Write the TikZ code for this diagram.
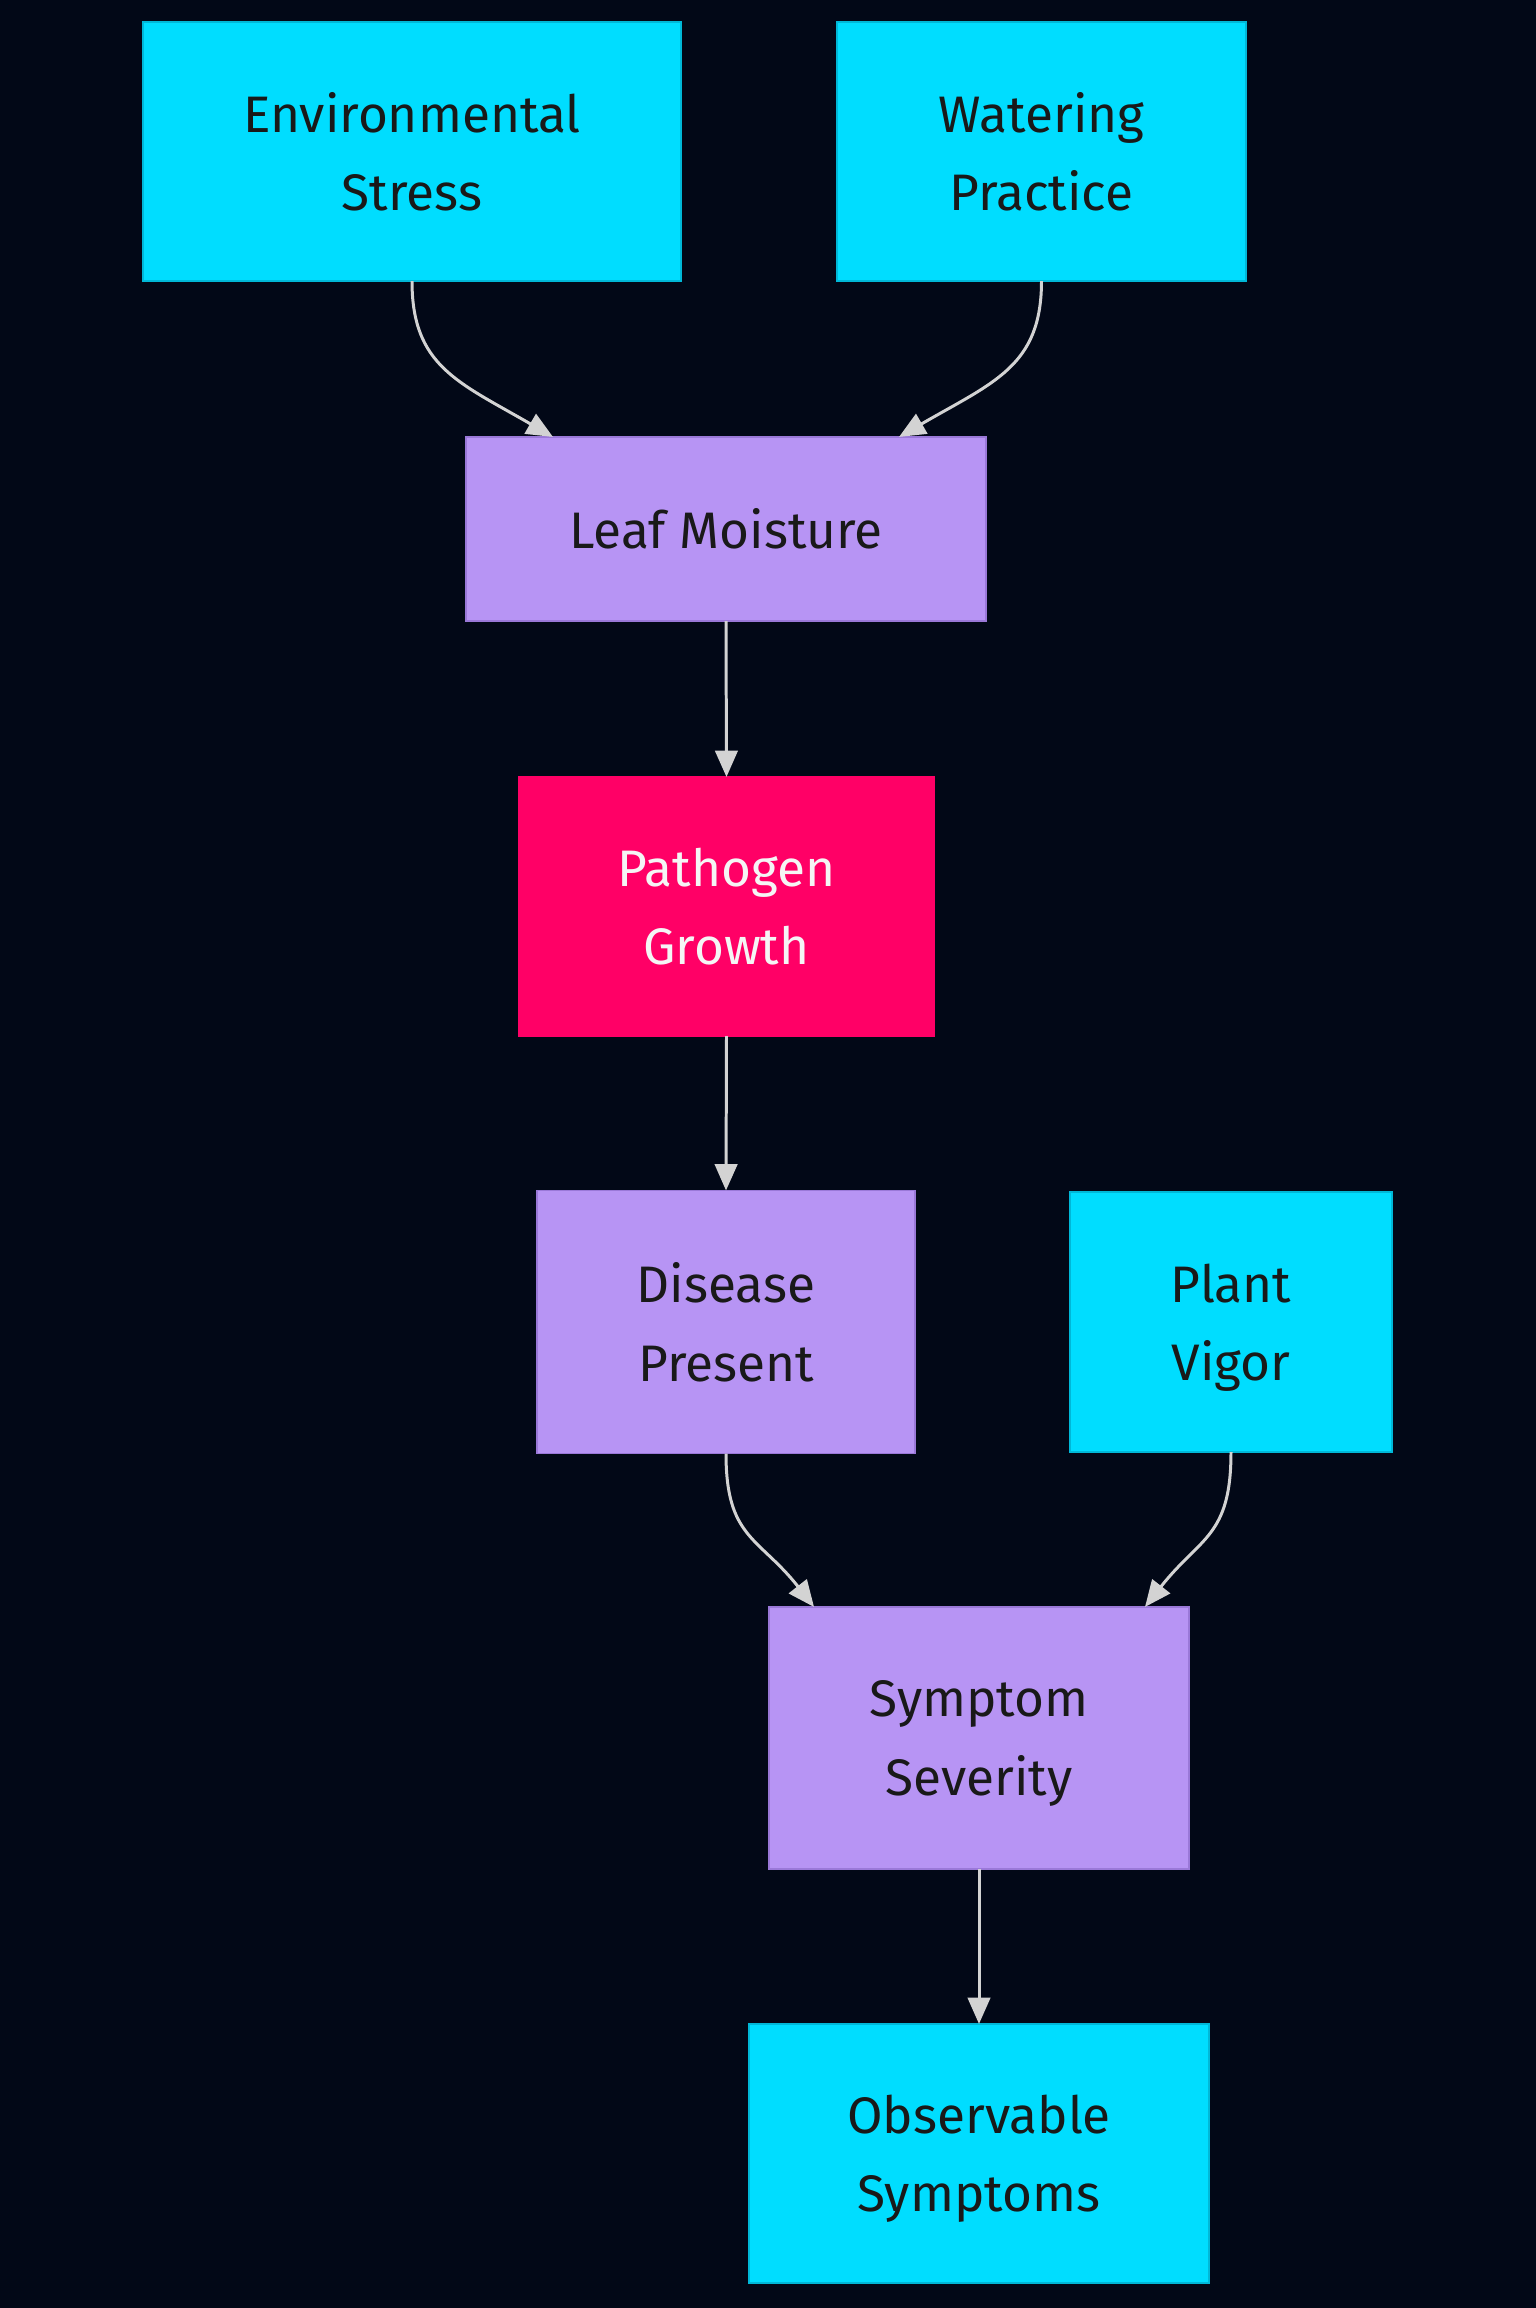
\documentclass[tikz,border=0pt]{standalone}
\usepackage{fontspec}
\setmainfont{Fira Sans}
\usepackage{xcolor}
\usepackage{tikz}
\usetikzlibrary{arrows.meta, positioning}

\definecolor{bgnavy}{HTML}{020817}
\definecolor{cyanfill}{HTML}{00DDFF}
\definecolor{cyanline}{HTML}{00B8D8}
\definecolor{lilacfill}{HTML}{B794F4}
\definecolor{lilacline}{HTML}{9A78D8}
\definecolor{pinkfill}{HTML}{FF0066}
\definecolor{edgegray}{HTML}{D3D3D3}

% last line without descender depth, so every label sits centred alike
\newcommand{\lastline}[1]{\raisebox{0pt}[\height][0pt]{#1}}

\tikzset{
  box/.style={rectangle, inner sep=0pt, outer sep=0pt, align=center,
    font=\fontsize{14.6}{22.3}\selectfont, text=black!90, line width=0.5pt},
  inbox/.style={box, fill=cyanfill, draw=cyanline},
  midbox/.style={box, fill=lilacfill, draw=lilacline},
  hotbox/.style={box, fill=pinkfill, draw=pinkfill, text=white!96!black},
  link/.style={edgegray, line width=0.85pt, -{Triangle[length=7.5pt, width=6.4pt]}}
}

\begin{document}
\begin{tikzpicture}[x=0.01cm, y=-0.01cm]
  \fill[bgnavy] (0,0) rectangle (1536,2308);
  \useasboundingbox (0,0) rectangle (1536,2308);
  % input factors
  \node[inbox, minimum width=5.38cm, minimum height=2.59cm] (env) at (412,151.5) {Environmental\\\lastline{Stress}};
  \node[inbox, minimum width=4.09cm, minimum height=2.59cm] (water) at (1041.5,151.5) {Watering\\\lastline{Practice}};
  % chain
  \node[midbox, minimum width=5.20cm, minimum height=1.84cm] (leaf) at (726,529) {Leaf Moisture};
  \node[hotbox, minimum width=4.15cm, minimum height=2.59cm] (patho) at (726.5,906.5) {Pathogen\\\lastline{Growth}};
  \node[midbox, minimum width=3.78cm, minimum height=2.63cm] (disease) at (726,1322) {Disease\\\lastline{Present}};
  \node[inbox, minimum width=3.22cm, minimum height=2.60cm] (vigor) at (1231,1322) {Plant\\\lastline{Vigor}};
  \node[midbox, minimum width=4.20cm, minimum height=2.62cm] (severity) at (979,1738) {Symptom\\\lastline{Severity}};
  \node[inbox, minimum width=4.60cm, minimum height=2.59cm] (observe) at (979,2153.5) {Observable\\\lastline{Symptoms}};
  % arrow ends on the top edges
  \path (leaf.north) ++(-173,0) coordinate (leafL);
  \path (leaf.north) ++(173,0) coordinate (leafR);
  \path (severity.north) ++(-165,0) coordinate (sevL);
  \path (severity.north) ++(166,0) coordinate (sevR);
  % edges
  \draw[link] (env.south) .. controls +(0,85) and +(-95,-55) .. (leafL);
  \draw[link] (water.south) .. controls +(0,85) and +(95,-55) .. (leafR);
  \draw[link] (leaf.south) -- (patho.north);
  \draw[link] (patho.south) -- (disease.north);
  \draw[link] (disease.south) .. controls +(0,85) and +(-55,-70) .. (sevL);
  \draw[link] (vigor.south) .. controls +(0,85) and +(55,-70) .. (sevR);
  \draw[link] (severity.south) -- (observe.north);
\end{tikzpicture}
\end{document}
